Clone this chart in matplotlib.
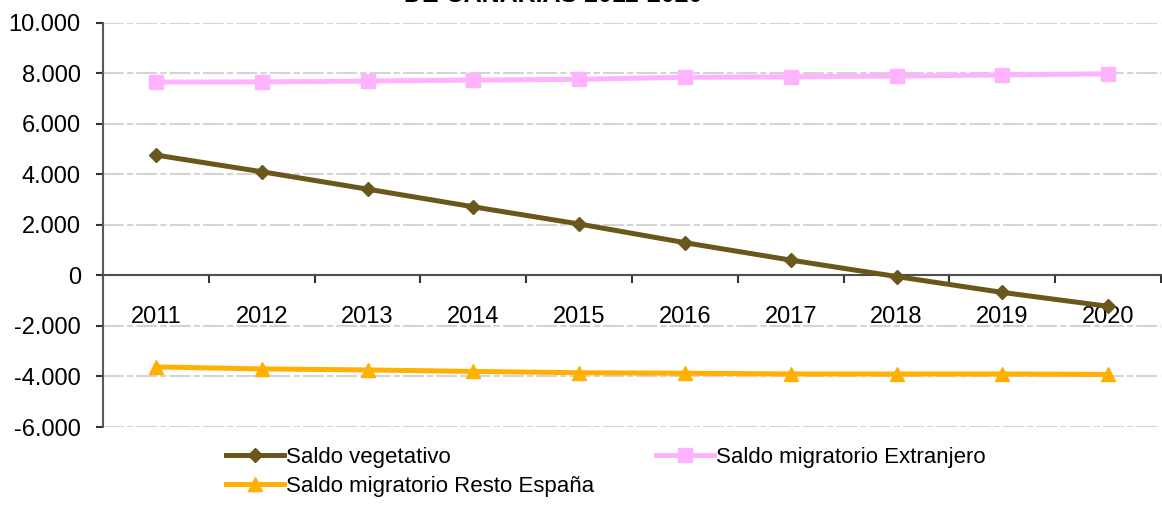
import matplotlib
matplotlib.use("Agg")
import matplotlib.pyplot as plt
from matplotlib.ticker import FuncFormatter, FixedLocator
import numpy as np

# Datos
years = ['2011', '2012', '2013', '2014', '2015', '2016', '2017', '2018', '2019', '2020']
saldo_vegetativo = [4770, 4110, 3420, 2720, 2040, 1300, 610, -40, -670, -1220]
saldo_extranjero = [7660, 7670, 7700, 7740, 7770, 7850, 7870, 7900, 7940, 7990]
saldo_resto_espana = [-3620, -3700, -3740, -3800, -3850, -3870, -3900, -3900, -3900, -3920]

plt.rcParams['font.family'] = ['Liberation Sans', 'DejaVu Sans']

fig = plt.figure(figsize=(11.62, 5.05), dpi=100)
ax = fig.add_axes([103 / 1162, 1 - 427 / 505, 1058 / 1162, 404 / 505])

x = np.arange(len(years))

l1, = ax.plot(x, saldo_vegetativo, color='#6b561c', lw=3.6, marker='D', ms=7,
              label='Saldo vegetativo', zorder=3)
l2, = ax.plot(x, saldo_extranjero, color='#ffb3ff', lw=3.6, marker='s', ms=10,
              label='Saldo migratorio Extranjero', zorder=3)
l3, = ax.plot(x, saldo_resto_espana, color='#ffb000', lw=3.6, marker='^', ms=10,
              label='Saldo migratorio Resto España', zorder=3)

ax.set_xlim(-0.5, len(years) - 0.5)
ax.set_ylim(-6000, 10000)
ax.set_yticks(np.arange(-6000, 10001, 2000))

def miles(v, pos):
    return f'{int(v):,}'.replace(',', '.')

ax.yaxis.set_major_formatter(FuncFormatter(miles))
ax.yaxis.grid(True, color='#d4d4d4', lw=1.5, linestyle=(0, (10, 1.5, 3, 1.5)))
ax.set_axisbelow(True)

# Eje de categorias cruzando en cero
ax.spines['top'].set_visible(False)
ax.spines['right'].set_visible(False)
ax.spines['bottom'].set_position(('data', 0))
ax.spines['bottom'].set_color('#4d4d4d')
ax.spines['bottom'].set_linewidth(1.5)
ax.spines['left'].set_color('#595959')
ax.spines['left'].set_linewidth(1.5)

ax.set_xticks(x)
ax.set_xticklabels(years)
ax.xaxis.set_minor_locator(FixedLocator(np.arange(-0.5, len(years), 1.0)))
ax.tick_params(axis='x', which='major', length=0, pad=22, labelsize=17)
ax.tick_params(axis='x', which='minor', length=6, width=1.5, color='#333333', direction='out')
ax.tick_params(axis='y', length=5, width=1.5, color='#333333', labelsize=17, pad=11)

fig.legend(handles=[l1, l3, l2], loc='upper left', ncol=2, frameon=False,
           bbox_to_anchor=(226 / 1162, 1 - 447 / 505), fontsize=16, handlelength=2.6,
           handletextpad=0.1, columnspacing=2.8, labelspacing=0.35,
           borderpad=0, borderaxespad=0)

fig.text(553 / 1162, 1 - 2 / 505, 'DE CANARIAS 2011-2020', ha='center', va='baseline',
         fontsize=18, fontweight='bold')

fig.savefig('out.png', dpi=100)
